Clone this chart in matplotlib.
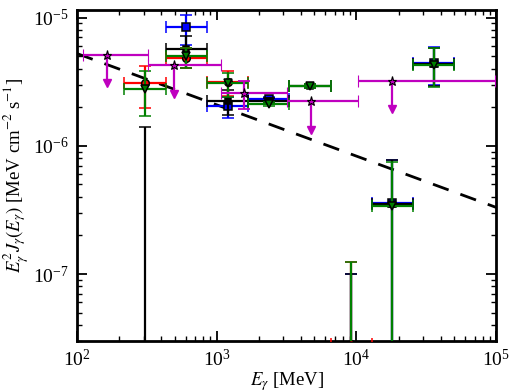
import numpy as np
import matplotlib
matplotlib.use("Agg")
import matplotlib.pyplot as plt

plt.rcParams['font.family'] = ['Liberation Serif', 'DejaVu Serif']
plt.rcParams['mathtext.fontset'] = 'stix'

# energy bins (MeV)
bin_lo = [217, 432, 851, 1679, 3311, 6531, 12882, 25410]
bin_hi = [432, 851, 1679, 3311, 6531, 12882, 25410, 50119]
nan = np.nan
floor = 1e-10  # error bar reaching down to zero

# series: values, lower bound, upper bound
blue_y = [nan, 8.40e-6, 2.05e-6, 2.32e-6, nan, 1e-9, 3.60e-7, 4.45e-6]
blue_lo = [nan, 6.15e-6, 1.65e-6, 2.23e-6, nan, floor, floor, 3.00e-6]
blue_hi = [nan, 1.055e-5, 2.41e-6, 2.41e-6, nan, 9.95e-8, 7.78e-7, 5.89e-6]

black_y = [1e-9, 5.73e-6, 2.25e-6, 2.25e-6, 2.94e-6, 1e-9, 3.50e-7, 4.37e-6]
black_lo = [floor, 4.07e-6, 1.75e-6, 2.16e-6, 2.82e-6, floor, floor, 2.95e-6]
black_hi = [1.41e-6, 7.23e-6, 2.74e-6, 2.34e-6, 3.06e-6, 9.95e-8, 7.70e-7, 5.80e-6]

red_y = [3.09e-6, 4.87e-6, 3.16e-6, nan, nan, 2.85e-8, nan, nan]
red_lo = [1.97e-6, 4.07e-6, 2.45e-6, nan, nan, floor, nan, nan]
red_hi = [4.16e-6, 5.83e-6, 3.80e-6, nan, nan, 1.25e-7, nan, nan]

green_y = [2.79e-6, 5.05e-6, 3.10e-6, 2.12e-6, 2.94e-6, 1e-9, 3.40e-7, 4.29e-6]
green_lo = [1.71e-6, 4.07e-6, 2.41e-6, 2.04e-6, 2.82e-6, floor, floor, 2.89e-6]
green_hi = [3.81e-6, 5.83e-6, 3.72e-6, 2.20e-6, 3.06e-6, 1.25e-7, 7.50e-7, 5.74e-6]

# magenta upper limits
ul_lo = [110, 324, 1075, 3170, 10200]
ul_hi = [322, 1075, 3185, 10200, 98000]
ul_E = [165, 497, 1578, 4730, 18000]
ul_y = [5.14e-6, 4.24e-6, 2.58e-6, 2.22e-6, 3.22e-6]
ul_is_limit = [True, True, False, True, True]
ul_err_lo = [nan, nan, 1.95e-6, nan, nan]
ul_err_hi = [nan, nan, 3.22e-6, nan, nan]

# power-law model
model_norm = 5.24e-6   # at 100 MeV
model_index = 0.4

lo = np.array(bin_lo, float)
hi = np.array(bin_hi, float)
E = np.sqrt(lo * hi)
xerr = [E - lo, hi - E]

fig = plt.figure(figsize=(5.1, 3.92), dpi=100)
ax = fig.add_axes([0.151, 0.130, 0.822, 0.845])

def draw(y, ylo, yhi, color, marker, ms, z):
    y = np.array(y); ylo = np.array(ylo); yhi = np.array(yhi)
    ax.errorbar(E, y, xerr=xerr, yerr=[y - ylo, yhi - y], fmt=marker,
                color=color, mfc=color, mec='k', ms=ms, mew=1.1,
                elinewidth=1.6, capsize=4.5, capthick=1.3, zorder=z)

draw(blue_y, blue_lo, blue_hi, 'b', 's', 6, 3)
draw(black_y, black_lo, black_hi, 'k', 's', 5, 4)
draw(red_y, red_lo, red_hi, 'r', 'o', 5.5, 5)
draw(green_y, green_lo, green_hi, 'g', 'v', 5.5, 6)

# upper limits
uE = np.array(ul_E, float)
uy = np.array(ul_y)
uxerr = [uE - np.array(ul_lo), np.array(ul_hi) - uE]
ax.errorbar(uE, uy, xerr=uxerr, fmt='*', color='m', mfc='m', mec='k',
            ms=6.5, mew=0.8, elinewidth=1.6, capsize=4, capthick=1.3, zorder=7)
for e, v, lim, el, eh in zip(uE, uy, ul_is_limit, ul_err_lo, ul_err_hi):
    if lim:
        ax.plot([e, e], [v, v * 0.6], color='m', lw=1.6, zorder=7)
        ax.plot(e, v * 0.6, marker='v', color='m', ms=5.5, zorder=7)
    else:
        ax.errorbar(e, v, yerr=[[v - el], [eh - v]], fmt='none', ecolor='m',
                    elinewidth=1.6, capsize=4, capthick=1.3, zorder=7)

xm = np.logspace(2, 5, 50)
ax.plot(xm, model_norm * (xm / 100.0) ** (-model_index), 'k--', lw=2,
        dashes=(6, 4.5), zorder=2)

ax.set_xscale('log')
ax.set_yscale('log')
ax.set_xlim(1e2, 1e5)
ax.set_ylim(3.0e-8, 1.15e-5)

for s in ax.spines.values():
    s.set_linewidth(2)
ax.tick_params(which='both', direction='in', top=True, right=True, labelsize=14)
ax.tick_params(which='major', length=7, width=1.3, pad=6)
ax.tick_params(which='minor', length=3.5, width=1)

ax.set_xlabel(r'$E_\gamma$ [MeV]', fontsize=13.5, labelpad=0)
ax.set_ylabel(r'$E_\gamma^2 J_\gamma(E_\gamma)$ [MeV cm$^{-2}$ s$^{-1}$]', fontsize=13.5, labelpad=1)

fig.savefig('out.png', dpi=100)
